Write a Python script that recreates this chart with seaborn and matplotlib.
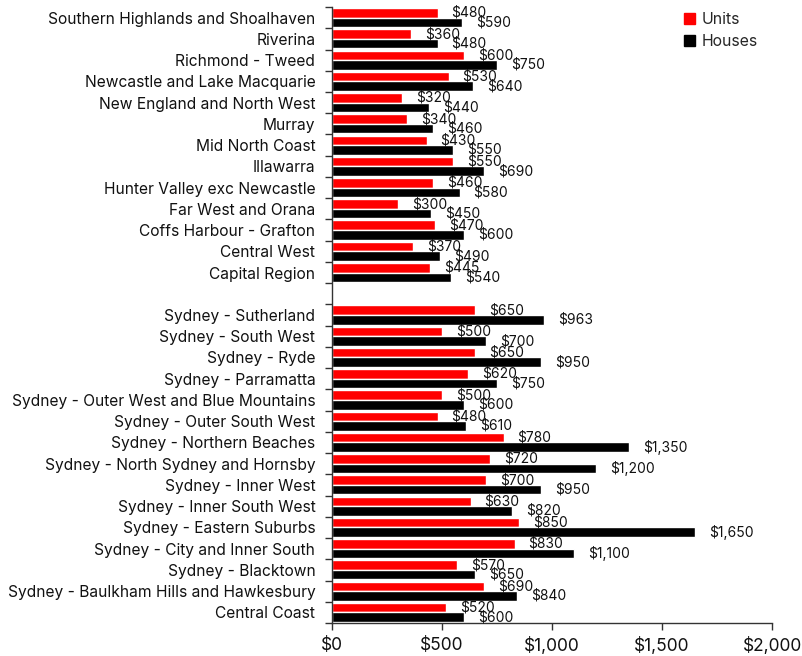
import matplotlib
matplotlib.use("Agg")
import matplotlib.pyplot as plt
import seaborn as sns
import pandas as pd
from matplotlib.patches import Patch
from matplotlib.ticker import FuncFormatter, FixedLocator

# regional NSW, top to bottom
regional = ["Southern Highlands and Shoalhaven", "Riverina", "Richmond - Tweed",
            "Newcastle and Lake Macquarie", "New England and North West", "Murray",
            "Mid North Coast", "Illawarra", "Hunter Valley exc Newcastle",
            "Far West and Orana", "Coffs Harbour - Grafton", "Central West",
            "Capital Region"]
regional_units = [480, 360, 600, 530, 320, 340, 430, 550, 460, 300, 470, 370, 445]
regional_houses = [590, 480, 750, 640, 440, 460, 550, 690, 580, 450, 600, 490, 540]

# Sydney and surrounds, top to bottom
sydney = ["Sydney - Sutherland", "Sydney - South West", "Sydney - Ryde",
          "Sydney - Parramatta", "Sydney - Outer West and Blue Mountains",
          "Sydney - Outer South West", "Sydney - Northern Beaches",
          "Sydney - North Sydney and Hornsby", "Sydney - Inner West",
          "Sydney - Inner South West", "Sydney - Eastern Suburbs",
          "Sydney - City and Inner South", "Sydney - Blacktown",
          "Sydney - Baulkham Hills and Hawkesbury", "Central Coast"]
sydney_units = [650, 500, 650, 620, 500, 480, 780, 720, 700, 630, 850, 830, 570, 690, 520]
sydney_houses = [963, 700, 950, 750, 600, 610, 1350, 1200, 950, 820, 1650, 1100, 650, 840, 600]

regions = regional + sydney
units = regional_units + sydney_units
houses = regional_houses + sydney_houses
order = regional + [" "] + sydney  # blank row separates the two groups

df = pd.DataFrame({
    "region": regions * 2,
    "type": ["Units"] * len(regions) + ["Houses"] * len(regions),
    "rent": units + houses,
})

colors = {"Units": "#ff0000", "Houses": "#000000"}

sns.set_style("white")
plt.rcParams["font.family"] = ["Inter", "DejaVu Sans"]

fig = plt.figure(figsize=(8.02, 6.56), dpi=100)
ax = fig.add_axes([0.414, 0.0503, 0.5487, 0.939])

sns.barplot(data=df, y="region", x="rent", hue="type", order=order,
            hue_order=["Units", "Houses"], palette=colors, orient="h",
            width=0.9, dodge=True, errorbar=None, legend=False, ax=ax,
            saturation=1)

for cont in ax.containers:
    ax.bar_label(cont, labels=[f"${v:,.0f}" for v in cont.datavalues],
                 padding=10, fontsize=10, color="#111111")

ax.set_xlim(0, 2000)
ax.set_xticks([0, 500, 1000, 1500, 2000])
ax.xaxis.set_major_formatter(FuncFormatter(lambda v, p: f"${v:,.0f}"))
ax.set_ylim(len(order) - 0.5, -0.5)
ax.yaxis.set_minor_locator(FixedLocator([i - 0.5 for i in range(len(order) + 1)]))
ax.tick_params(axis="y", which="major", length=0, labelsize=11.2, pad=12,
               labelcolor="#111111")
ax.tick_params(axis="y", which="minor", length=5, width=1, color="#333333", left=True)
ax.tick_params(axis="x", length=5, width=1, color="#333333", labelsize=12.5,
               bottom=True, pad=5, labelcolor="#111111")
ax.set_xlabel("")
ax.set_ylabel("")

for side in ["top", "right"]:
    ax.spines[side].set_visible(False)
for side in ["left", "bottom"]:
    ax.spines[side].set_color("#333333")
    ax.spines[side].set_linewidth(1)

handles = [Patch(color=colors[k], label=k) for k in ["Units", "Houses"]]
ax.legend(handles=handles, loc="upper right", bbox_to_anchor=(1.0, 1.015),
          frameon=False, fontsize=11.4, handlelength=0.7, handleheight=0.7,
          handletextpad=0.4, labelspacing=0.45)

fig.savefig("out.png", dpi=100)
